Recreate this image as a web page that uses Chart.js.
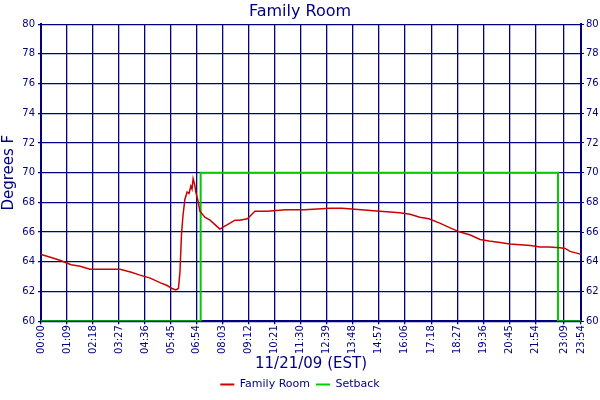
<!DOCTYPE html>
<html><head><meta charset="utf-8">
<script src="https://cdn.jsdelivr.net/npm/chart.js"></script>
<style>body{margin:0;background:#fff}#wrap{width:600px;height:400px}</style>
</head><body><div id="wrap"><canvas id="c"></canvas></div>
<script>
// minutes since midnight, temperature (F)
var tempMinutes = [0, 25, 50, 80, 104, 130, 160, 210, 240, 263, 290, 316, 335, 348, 358, 365, 369, 373, 377, 382, 388, 393, 398, 401, 404, 408, 412, 417, 422, 435, 449, 462, 475, 488, 502, 515, 528, 548, 560, 568, 600, 650, 700, 767, 800, 850, 900, 953, 980, 1006, 1030, 1059, 1085, 1113, 1140, 1166, 1190, 1219, 1245, 1272, 1300, 1325, 1350, 1378, 1392, 1405, 1420, 1434];
var tempValues = [64.5, 64.3, 64.1, 63.8, 63.7, 63.5, 63.5, 63.5, 63.3, 63.1, 62.9, 62.6, 62.4, 62.2, 62.1, 62.2, 63.3, 65.8, 67.1, 68.2, 68.7, 68.6, 69.1, 68.9, 69.6, 69.2, 68.6, 68.1, 67.4, 67.0, 66.8, 66.5, 66.2, 66.4, 66.6, 66.8, 66.8, 66.9, 67.2, 67.4, 67.4, 67.5, 67.5, 67.6, 67.6, 67.5, 67.4, 67.3, 67.2, 67.0, 66.9, 66.6, 66.3, 66.0, 65.8, 65.5, 65.4, 65.3, 65.2, 65.15, 65.1, 65.0, 65.0, 64.95, 64.9, 64.7, 64.6, 64.5];
var setbackMinutes = [0, 424, 1373, 1434];
var setbackValues = [60, 70, 60, 60];
var xTickLabels = ["00:00", "01:09", "02:18", "03:27", "04:36", "05:45", "06:54", "08:03", "09:12", "10:21", "11:30", "12:39", "13:48", "14:57", "16:06", "17:18", "18:27", "19:36", "20:45", "21:54", "23:09", "23:54"];

function pts(xs, ys) { return xs.map(function (x, i) { return { x: x, y: ys[i] }; }); }
function mins(s) { var p = s.split(":"); return +p[0] * 60 + +p[1]; }

var navy = "#000080";
Chart.defaults.font.family = "DejaVu Sans";
Chart.defaults.color = navy;
new Chart(document.getElementById("c").getContext("2d"), {
    type: "line",
    data: {
        datasets: [{
            label: "Family Room",
            data: pts(tempMinutes, tempValues),
            borderColor: "#cc0000",
            borderWidth: 1.5,
            pointRadius: 0,
            tension: 0
        }, {
            label: "Setback",
            data: pts(setbackMinutes, setbackValues),
            borderColor: "#00cc00",
            borderWidth: 2,
            pointRadius: 0,
            stepped: true
        }]
    },
    options: {
        responsive: true,
        maintainAspectRatio: false,
        animation: false,
        layout: { padding: { left: 0, right: 0, top: 2, bottom: 0 } },
        plugins: {
            title: { display: true, text: "Family Room", font: { size: 16, weight: "normal" }, color: navy, padding: { top: 0, bottom: 3 } },
            legend: {
                position: "bottom",
                labels: { boxWidth: 14, boxHeight: 2, font: { size: 11 }, color: navy, padding: 6,
                    generateLabels: function (chart) {
                        return chart.data.datasets.map(function (d, i) {
                            return { text: d.label, fillStyle: d.borderColor, strokeStyle: d.borderColor, lineWidth: 0, datasetIndex: i, fontColor: navy };
                        });
                    } }
            },
            tooltip: { enabled: false }
        },
        scales: {
            x: {
                type: "linear", min: 0, max: 1434,
                afterBuildTicks: function (s) { s.ticks = xTickLabels.map(function (t) { return { value: mins(t) }; }); },
                ticks: { callback: function (v) { var m = v % 60, h = (v - m) / 60; return (h < 10 ? "0" : "") + h + ":" + (m < 10 ? "0" : "") + m; }, maxRotation: 90, minRotation: 90, font: { size: 10 }, color: navy, autoSkip: false, padding: 1 },
                grid: { color: navy, lineWidth: 1.3, tickLength: 3 },
                border: { color: navy, width: 2 },
                title: { display: true, text: "11/21/09 (EST)", font: { size: 15 }, color: navy, padding: { top: 0, bottom: 0 } }
            },
            y: {
                min: 60, max: 80,
                ticks: { stepSize: 2, font: { size: 10 }, color: navy, padding: 3 },
                grid: { color: navy, lineWidth: 1.3, tickLength: 3 },
                border: { color: navy, width: 2 },
                title: { display: true, text: "Degrees F", font: { size: 15 }, color: navy, padding: 0 },
                afterFit: function (s) { s.width = 41; }
            },
            y2: {
                position: "right", min: 60, max: 80,
                ticks: { stepSize: 2, font: { size: 10 }, color: navy, padding: 2 },
                grid: { drawOnChartArea: false, color: navy, tickLength: 3 },
                border: { color: navy, width: 2 },
                afterFit: function (s) { s.width = 19; }
            }
        }
    }
});
</script>
</body></html>
